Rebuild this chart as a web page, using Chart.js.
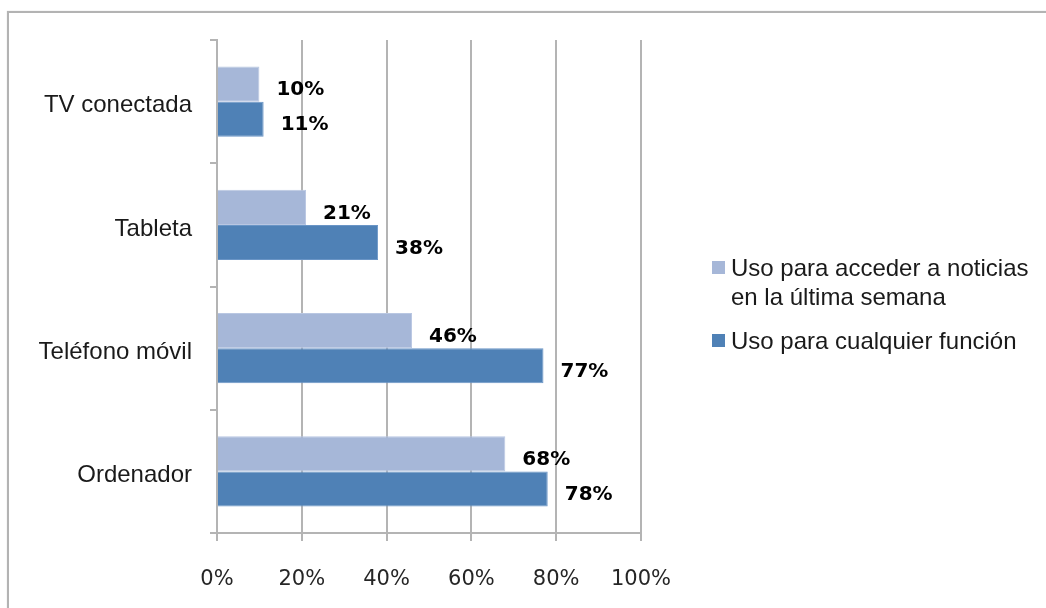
<!DOCTYPE html>
<html lang="es">
<head>
<meta charset="utf-8">
<title>Dispositivos</title>
<script src="https://cdn.jsdelivr.net/npm/chart.js@4.4.1/dist/chart.umd.min.js"></script>
<style>
  html, body { margin: 0; padding: 0; background: #fff; overflow: hidden; }
  #wrap { position: relative; width: 1046px; height: 608px; }
  #frame {
    position: absolute; left: 7px; top: 11px; width: 1200px; height: 800px;
    border: 2px solid #b3b3b3; box-shadow: 0 0 1px #d0d0d0;
  }
  #devicesChart { position: absolute; left: 0; top: 0; }
</style>
</head>
<body>
<div id="wrap">
  <div id="frame"></div>
  <canvas id="devicesChart" width="1046" height="608"></canvas>
</div>
<script>
const categories = ['TV conectada', 'Tableta', 'Teléfono móvil', 'Ordenador'];
const newsLastWeek = [10, 21, 46, 68];
const anyUse = [11, 38, 77, 78];
const seriesNames = [['Uso para acceder a noticias', 'en la última semana'], ['Uso para cualquier función']];
const xTicks = [0, 20, 40, 60, 80, 100];

const lightBlue = '#a6b7d8';
const darkBlue = '#4f81b6';
const gridGray = '#b4b4b4';

// value labels next to each bar end
const valueLabels = {
  id: 'valueLabels',
  afterDatasetsDraw(chart) {
    const ctx = chart.ctx;
    ctx.save();
    ctx.font = 'bold 20px "DejaVu Sans"';
    ctx.fillStyle = '#000';
    ctx.textAlign = 'left';
    ctx.textBaseline = 'middle';
    chart.data.datasets.forEach((ds, i) => {
      chart.getDatasetMeta(i).data.forEach((bar, j) => {
        ctx.fillText(ds.data[j] + '%', bar.x + 17, bar.y + 6);
      });
    });
    ctx.restore();
  }
};

// legend on the right, first entry wraps to two lines
const sideLegend = {
  id: 'sideLegend',
  afterDraw(chart) {
    const ctx = chart.ctx;
    const colors = [lightBlue, darkBlue];
    const rows = [268, 341];
    ctx.save();
    ctx.font = '24px "Liberation Sans"';
    ctx.textBaseline = 'middle';
    ctx.textAlign = 'left';
    seriesNames.forEach((lines, i) => {
      const y = rows[i];
      ctx.fillStyle = colors[i];
      ctx.fillRect(712, y - 7, 13, 13);
      ctx.fillStyle = '#1a1a1a';
      lines.forEach((line, k) => ctx.fillText(line, 731, y + 1 + k * 29));
    });
    ctx.restore();
  }
};

new Chart(document.getElementById('devicesChart'), {
  type: 'bar',
  data: {
    labels: categories,
    datasets: [{
      label: seriesNames[0].join(' '),
      data: newsLastWeek,
      backgroundColor: lightBlue,
      borderColor: '#b9c7e2',
      borderWidth: 1,
      barPercentage: 1,
      categoryPercentage: 0.57
    }, {
      label: seriesNames[1].join(' '),
      data: anyUse,
      backgroundColor: darkBlue,
      borderColor: '#6a95c6',
      borderWidth: 1,
      barPercentage: 1,
      categoryPercentage: 0.57
    }]
  },
  options: {
    indexAxis: 'y',
    responsive: false,
    animation: false,
    layout: { padding: { left: 0, top: 40, right: 405, bottom: 0 } },
    plugins: {
      legend: { display: false },
      tooltip: { enabled: false }
    },
    scales: {
      x: {
        min: 0,
        max: 100,
        afterBuildTicks: (scale) => { scale.ticks = xTicks.map((v) => ({ value: v })); },
        afterFit: (scale) => { scale.height = 75; },
        border: { display: true, color: gridGray, width: 2 },
        grid: { color: gridGray, lineWidth: 2, tickLength: 8 },
        ticks: {
          padding: 26,
          color: '#262626',
          font: { family: 'DejaVu Sans', size: 21 },
          callback: (v) => v + '%'
        }
      },
      y: {
        afterFit: (scale) => { scale.width = 217; },
        border: { display: true, color: gridGray, width: 2 },
        grid: { drawOnChartArea: false, color: gridGray, lineWidth: 2, tickLength: 7 },
        ticks: {
          padding: 18,
          labelOffset: 4,
          color: '#1a1a1a',
          font: { family: 'Liberation Sans', size: 24 }
        }
      }
    }
  },
  plugins: [valueLabels, sideLegend]
});
</script>
</body>
</html>
